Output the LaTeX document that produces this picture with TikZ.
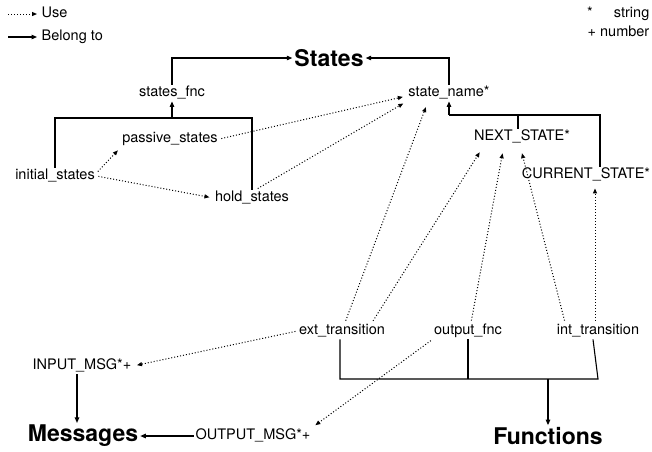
\documentclass[tikz,border=0pt]{standalone}
\usepackage{fontspec}
\setmainfont{TeX Gyre Heros}
\usetikzlibrary{arrows.meta,calc}
\begin{document}
\begin{tikzpicture}[x=1pt,y=-1pt,
  lbl/.style={font=\fontsize{14.5}{17}\selectfont, inner sep=1.5pt, text height=10.5pt, text depth=3pt},
  grp/.style={font=\fontsize{23}{26}\selectfont\bfseries, inner sep=2pt},
  tie/.style={line width=1.1pt},
  belong/.style={tie, -{Triangle[length=5.5pt,width=4.5pt]}},
  use/.style={line width=1pt, dash pattern=on 1pt off 2pt,
              -{Triangle[length=5pt,width=4pt]}, shorten >=4pt, shorten <=2pt},
]
\useasboundingbox (0,0) rectangle (652,451);

% legend
\coordinate (useS) at (8,14);
\coordinate (belS) at (8,37);
\node[lbl, anchor=west] (useL) at (40,14) {Use};
\node[lbl, anchor=west] (belL) at (40,37) {Belong to};
\draw[use, shorten >=3pt, shorten <=0pt] (useS) -- (useL.west);
\draw[belong, shorten >=3pt] (belS) -- (belL.west);

\node[lbl] (star) at (590,14) {*};
\node[lbl, anchor=east] (strg) at (651,14) {string};
\node[lbl, anchor=east] (numb) at (651,33) {+ number};

% group titles
\node[grp] (states) at (329,58) {States};
\node[grp] (msgs) at (83,436) {Messages};
\node[grp] (funcs) at (548,436) {Functions};

% states side
\node[lbl] (sfnc) at (172,93) {states\_fnc};
\node[lbl] (sname) at (449,93) {state\_name*};
\node[lbl] (passive) at (170,139) {passive\_states};
\node[lbl] (initial) at (55,176) {initial\_states};
\node[lbl] (hold) at (252,198) {hold\_states};
\node[lbl] (next) at (522,137) {NEXT\_STATE*};
\node[lbl] (cur) at (586,175) {CURRENT\_STATE*};

% functions
\node[lbl] (ext) at (342,331) {ext\_transition};
\node[lbl] (outf) at (468,331) {output\_fnc};
\node[lbl] (intt) at (598,331) {int\_transition};

% messages
\node[lbl] (inmsg) at (82,366) {INPUT\_MSG*+};
\node[lbl] (outmsg) at (253,436) {OUTPUT\_MSG*+};

% belong-to links
\draw[belong] (sfnc.north) |- (states.west);
\draw[belong] (sname.north) |- (states.east);

\coordinate (barA) at (0,118);
\draw[tie] (initial.north) |- (barA -| hold) -- (hold.north);
\draw[belong] (barA -| sfnc) -- (sfnc.south);

\coordinate (barB) at (0,115);
\draw[tie] (barB -| sname) -| ([xshift=14pt]cur.north);
\draw[tie] ([xshift=-4pt]next.north) -- ([xshift=-4pt]next.north |- barB);
\draw[belong] (barB -| sname) -- (sname.south);

\coordinate (barC) at (0,379);
\draw[tie] ([xshift=-2pt]ext.south) |- (barC -| intt) -- ([xshift=-5pt]intt.south);
\draw[tie] (outf.south) -- (outf.south |- barC);
\draw[belong] (barC -| funcs) -- (funcs.north);

\draw[belong] ([xshift=-5pt]inmsg.south) -- ([xshift=-5pt]inmsg.south |- msgs.north);
\draw[belong] (outmsg.west) -- (msgs.east);

% use links
\draw[use] ([yshift=3pt]initial.east) -- (passive.south west);
\draw[use] (initial.east) -- (hold.west);
\draw[use] (passive.east) -- ([yshift=-3pt]sname.west);
\draw[use] ([xshift=4pt]hold.north) -- (sname.south west);
\draw[use, shorten >=6pt] ([xshift=3pt]ext.north) -- ([xshift=-21pt]sname.south);
\draw[use, shorten >=8pt] ([xshift=30pt]ext.north) -- ([xshift=-38pt]next.south);
\draw[use, shorten >=8pt] ([xshift=3pt]outf.north) -- ([xshift=-18pt]next.south);
\draw[use, shorten >=8pt] ([xshift=-33pt]intt.north) -- ([xshift=-2pt]next.south);
\draw[use, shorten >=5pt] ([xshift=-3pt]intt.north) -- ([xshift=9pt]cur.south);
\draw[use] (ext.west) -- (inmsg.east);
\draw[use] (outf.south west) -- (outmsg.north east);
\end{tikzpicture}
\end{document}
